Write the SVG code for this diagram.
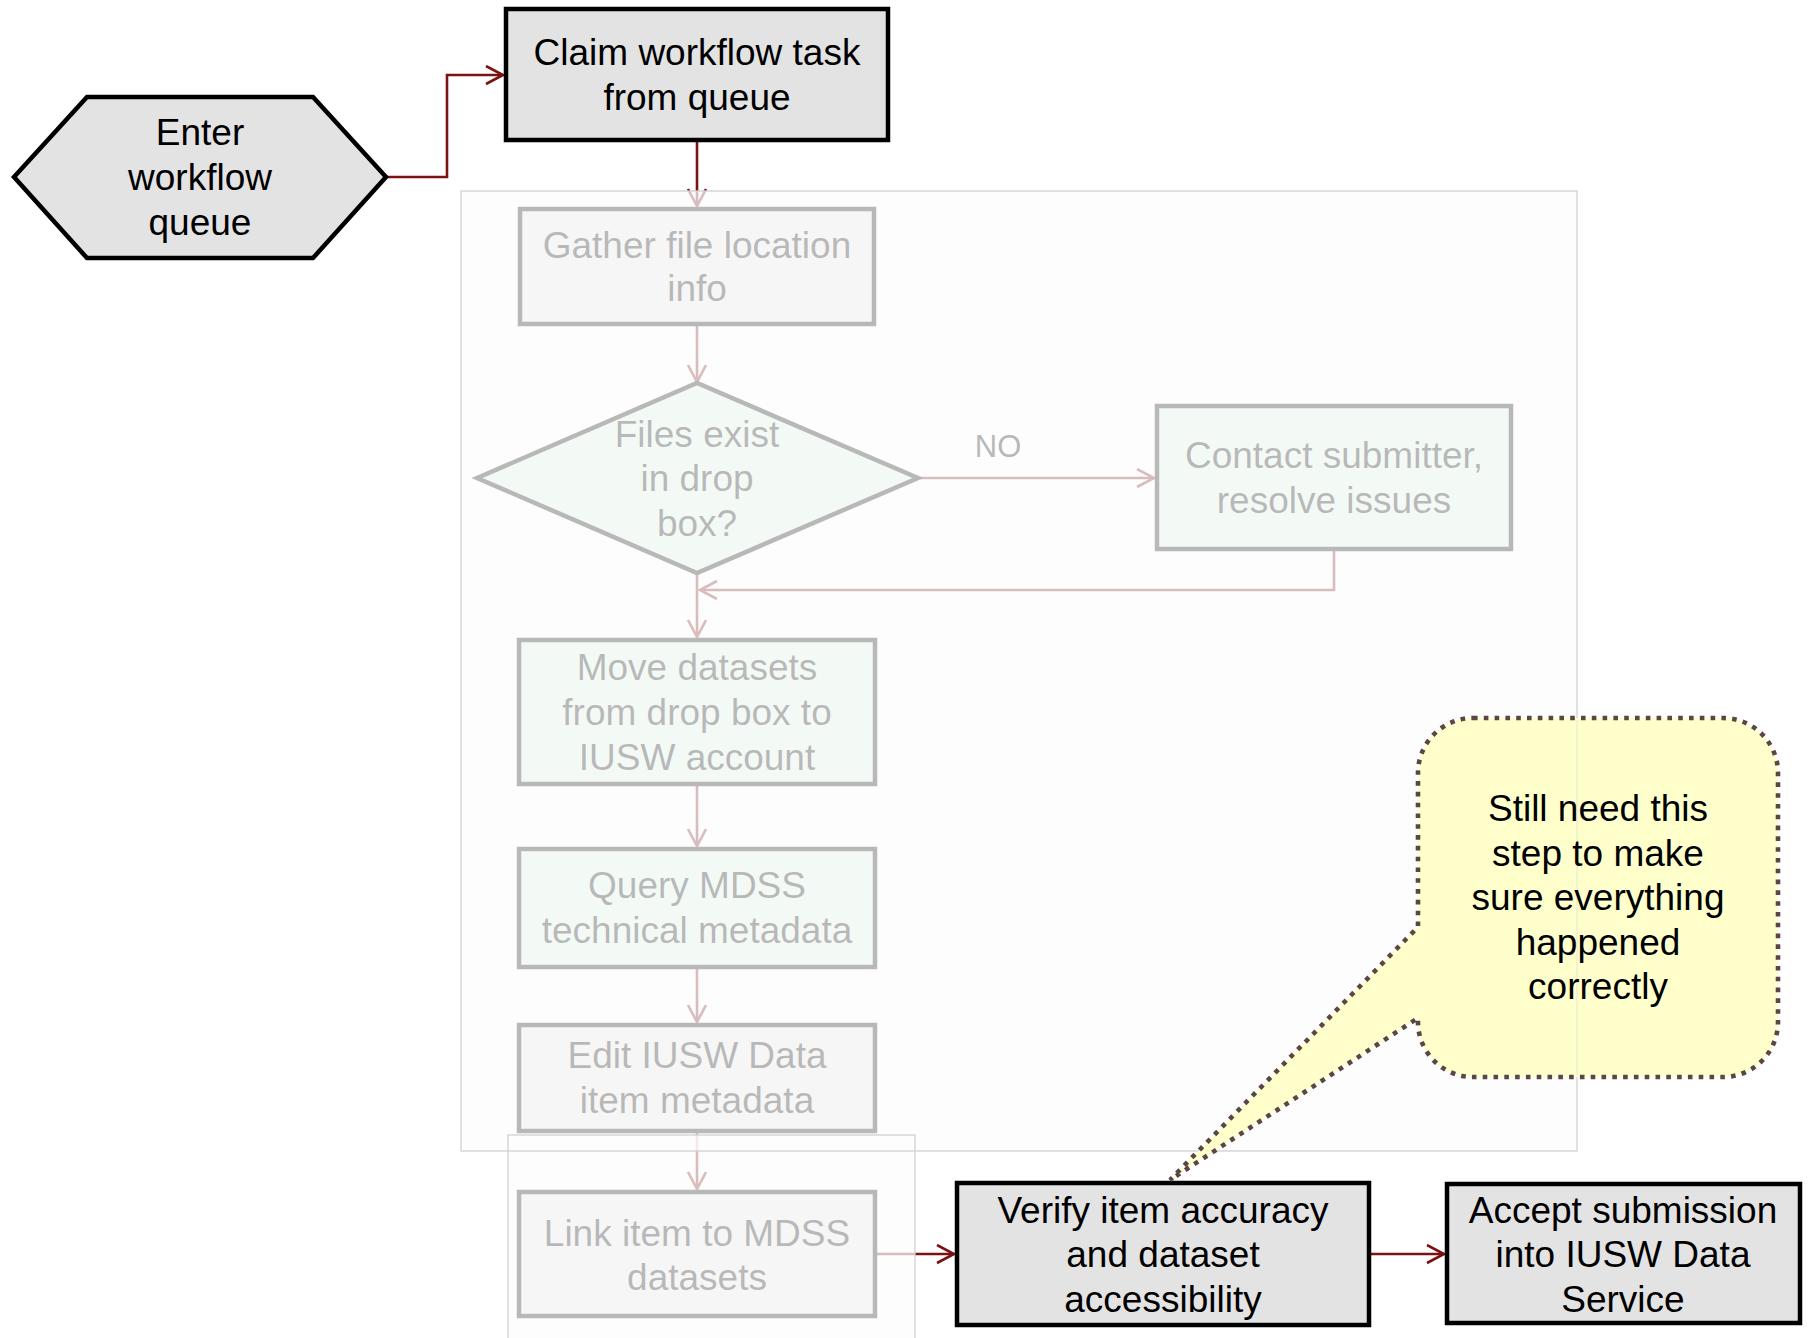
<svg xmlns="http://www.w3.org/2000/svg" width="1808" height="1338" viewBox="0 0 1808 1338">
  <defs>
    <marker id="vhead" markerUnits="userSpaceOnUse" markerWidth="22" markerHeight="24" refX="18" refY="10" orient="auto">
      <path d="M1,1 L18,10 L1,19" fill="none" stroke="#7a1212" stroke-width="2.6"/>
    </marker>
    <style>
      .lbl { font-family: "Liberation Sans", Arial, sans-serif; font-size: 37px; fill: #000; text-anchor: middle; }
      .step { fill: #e3e3e3; stroke: #000; stroke-width: 4.5; }
      .green { fill: #d8f4e6; stroke: #000; stroke-width: 4.5; }
      .flow { fill: none; stroke: #7a1212; stroke-width: 2.6; marker-end: url(#vhead); }
      .veil { fill: #fcfcfc; fill-opacity: 0.73; stroke: none; }
      .veil-edge { fill: none; stroke: #d2d2d2; stroke-width: 1.3; }
    </style>
  </defs>

  <rect width="1808" height="1338" fill="#ffffff"/>

  <!-- connectors -->
  <g id="connectors">
    <path class="flow" d="M387,177 H447 V75 H503"/>
    <path class="flow" d="M697,142 V206"/>
    <path class="flow" d="M697,326 V382"/>
    <path class="flow" d="M918,478 H1154"/>
    <path class="flow" d="M1334,551 V590 H700"/>
    <path class="flow" d="M697,573 V637"/>
    <path class="flow" d="M697,786 V846"/>
    <path class="flow" d="M697,969 V1022"/>
    <path class="flow" d="M697,1133 V1189"/>
    <path class="flow" d="M877,1254 H954"/>
    <path class="flow" d="M1371,1254 H1444"/>
    <text x="998" y="457" style="font-family: 'Liberation Sans', Arial, sans-serif; font-size: 31px; text-anchor: middle; fill: #000;">NO</text>
  </g>

  <g id="enter-queue">
    <polygon class="step" points="14,177 87,97 313,97 386,177 313,258 87,258"/>
    <text class="lbl" x="200" y="145">Enter</text>
    <text class="lbl" x="200" y="190">workflow</text>
    <text class="lbl" x="200" y="235">queue</text>
  </g>

  <g id="claim-task">
    <rect class="step" x="506" y="9" width="382" height="131"/>
    <text class="lbl" x="697" y="65">Claim workflow task</text>
    <text class="lbl" x="697" y="110">from queue</text>
  </g>

  <g id="gather-info">
    <rect class="step" x="520" y="209" width="354" height="115"/>
    <text class="lbl" x="697" y="258">Gather file location</text>
    <text class="lbl" x="697" y="301">info</text>
  </g>

  <g id="files-exist">
    <polygon class="green" points="477,478 697,383 918,478 697,573"/>
    <text class="lbl" x="697" y="447">Files exist</text>
    <text class="lbl" x="697" y="491">in drop</text>
    <text class="lbl" x="697" y="536">box?</text>
  </g>

  <g id="contact-submitter">
    <rect class="green" x="1157" y="406" width="354" height="143"/>
    <text class="lbl" x="1334" y="468">Contact submitter,</text>
    <text class="lbl" x="1334" y="513">resolve issues</text>
  </g>

  <g id="move-datasets">
    <rect class="green" x="519" y="640" width="356" height="144"/>
    <text class="lbl" x="697" y="680">Move datasets</text>
    <text class="lbl" x="697" y="725">from drop box to</text>
    <text class="lbl" x="697" y="770">IUSW account</text>
  </g>

  <g id="query-mdss">
    <rect class="green" x="519" y="849" width="356" height="118"/>
    <text class="lbl" x="697" y="898">Query MDSS</text>
    <text class="lbl" x="697" y="943">technical metadata</text>
  </g>

  <g id="edit-metadata">
    <rect class="step" x="519" y="1025" width="356" height="106"/>
    <text class="lbl" x="697" y="1068">Edit IUSW Data</text>
    <text class="lbl" x="697" y="1113">item metadata</text>
  </g>

  <g id="link-item">
    <rect class="step" x="519" y="1192" width="356" height="124"/>
    <text class="lbl" x="697" y="1246">Link item to MDSS</text>
    <text class="lbl" x="697" y="1290">datasets</text>
  </g>

  <!-- translucent panels dimming the steps already handled -->
  <g id="dim-panels">
    <rect class="veil" x="461" y="191" width="1116" height="960"/>
    <rect class="veil" x="508" y="1135" width="407" height="210"/>
  </g>

  <g id="verify-item">
    <rect class="step" x="957" y="1183" width="412" height="142"/>
    <text class="lbl" x="1163" y="1223">Verify item accuracy</text>
    <text class="lbl" x="1163" y="1267">and dataset</text>
    <text class="lbl" x="1163" y="1312">accessibility</text>
  </g>

  <g id="accept-submission">
    <rect class="step" x="1447" y="1184" width="353" height="139"/>
    <text class="lbl" x="1623" y="1223">Accept submission</text>
    <text class="lbl" x="1623" y="1267">into IUSW Data</text>
    <text class="lbl" x="1623" y="1312">Service</text>
  </g>

  <g id="panel-edges">
    <rect class="veil-edge" x="461" y="191" width="1116" height="960"/>
    <rect class="veil-edge" x="508" y="1135" width="407" height="210"/>
  </g>

  <g id="note">
    <path d="M1473,718 H1723 A55,55 0 0 1 1778,773 V1022 A55,55 0 0 1 1723,1077 H1473 A55,55 0 0 1 1418,1022 V1018 L1170,1180 L1418,927 V773 A55,55 0 0 1 1473,718 Z" fill="#ffffcc" stroke="#5a4646" stroke-width="4.6" stroke-dasharray="4.6 6.2"/>
    <line x1="1577" y1="720" x2="1577" y2="1075" stroke="#e6e6d2" stroke-width="1"/>
    <text class="lbl" x="1598" y="821">Still need this</text>
    <text class="lbl" x="1598" y="866">step to make</text>
    <text class="lbl" x="1598" y="910">sure everything</text>
    <text class="lbl" x="1598" y="955">happened</text>
    <text class="lbl" x="1598" y="999">correctly</text>
  </g>
</svg>
